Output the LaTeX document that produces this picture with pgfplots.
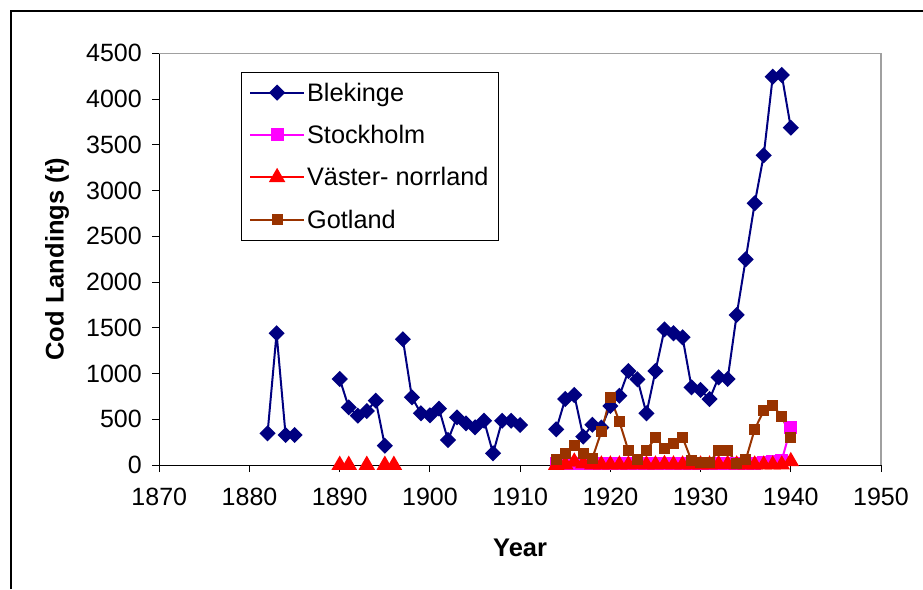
\documentclass[border=0pt]{standalone}
\usepackage{fontspec}
\setmainfont{Liberation Sans}
\usepackage{pgfplots}
\pgfplotsset{compat=1.18}
\definecolor{blek}{RGB}{0,0,128}
\definecolor{stock}{RGB}{255,0,255}
\definecolor{vast}{RGB}{255,0,0}
\definecolor{got}{RGB}{153,51,0}
\definecolor{pgray}{RGB}{160,160,160}
\begin{document}
\begin{tikzpicture}
\useasboundingbox (0pt,0pt) rectangle (923pt,589pt);
\draw[black, line width=1.3pt] (11pt,0pt) -- (11pt,578pt) -- (923pt,578pt);
\begin{axis}[
  at={(159.3pt,124pt)}, anchor=south west,
  scale only axis, width=721.7pt, height=411.7pt,
  xmin=1870, xmax=1950, ymin=0, ymax=4500,
  xtick={1870,1880,...,1950}, ytick={0,500,...,4500},
  axis x line*=bottom, axis y line*=left,
  axis line style={black, line width=1pt, -},
  tick align=outside, major tick length=7pt,
  tick style={black, line width=1pt},
  minor tick num=0,
  /pgf/number format/assume math mode=true,
  /pgf/number format/1000 sep={},
  tick label style={font=\fontsize{25}{29}\selectfont},
  xticklabel shift=13pt, yticklabel shift=7pt,
  xlabel={Year}, ylabel={Cod Landings (t)},
  label style={font=\fontsize{25.5}{30}\selectfont\bfseries},
  xlabel style={at={(axis description cs:0.5,-0.2016)}, anchor=center},
  ylabel style={at={(axis description cs:-0.1417,0.5)}, anchor=center},
  clip=false,
  unbounded coords=jump,
  legend style={at={(0.1132,0.955)}, anchor=north west, draw=black, line width=0.8pt,
    font=\fontsize{25.3}{30}\selectfont, inner xsep=7.7pt, inner ysep=8.5pt,
    row sep=18.5pt, nodes={inner sep=2pt},
    /tikz/every even column/.append style={column sep=9pt}},
  legend cell align=left,
  legend image code/.code={\draw[mark repeat=2,mark phase=2] plot coordinates {(0pt,0pt) (27pt,0pt) (54pt,0pt)};},
]
\draw[pgray, line width=1.5pt] (rel axis cs:0,1) -- (rel axis cs:1,1) -- (rel axis cs:1,0);
\addplot[color=blek, line width=2pt, mark=square*, mark size=4.7pt, mark options={rotate=45, solid, fill=blek}] coordinates {
(1882,346) (1883,1440) (1884,328) (1885,328) (1886,nan)
(1890,940) (1891,630) (1892,539) (1893,590) (1894,703) (1895,211) (1896,nan)
(1897,1374) (1898,740) (1899,565) (1900,543) (1901,616) (1902,273) (1903,521)
(1904,455) (1905,412) (1906,484) (1907,128) (1908,484) (1909,484) (1910,437) (1911,nan)
(1914,390) (1915,721) (1916,765) (1917,310) (1918,440) (1919,410) (1920,645)
(1921,757) (1922,1027) (1923,937) (1924,565) (1925,1027) (1926,1483) (1927,1440)
(1928,1396) (1929,849) (1930,820) (1931,721) (1932,958) (1933,940) (1934,1640)
(1935,2248) (1936,2860) (1937,3385) (1938,4244) (1939,4263) (1940,3687)
};
\addlegendentry{Blekinge}
\addplot[color=stock, line width=2pt, mark=square*, mark size=5.5pt, mark options={solid, fill=stock}] coordinates {
(1914,20) (1915,20) (1916,20) (1917,20) (1918,20) (1919,20) (1920,20) (1921,20)
(1922,20) (1923,20) (1924,20) (1925,20) (1926,20) (1927,20) (1928,20) (1929,20)
(1930,20) (1931,20) (1932,20) (1933,20) (1934,20) (1935,20) (1936,20) (1937,25)
(1938,35) (1939,50) (1940,408)
};
\addlegendentry{Stockholm}
\addplot[color=vast, line width=2pt, mark=triangle*, mark size=7.5pt, mark options={solid, fill=vast}] coordinates {
(1890,0) (1891,0) (1892,nan) (1893,0) (1894,nan) (1895,0) (1896,0) (1897,nan)
(1914,0) (1915,5) (1916,35) (1917,15) (1918,5) (1919,3) (1920,3) (1921,3)
(1922,3) (1923,8) (1924,3) (1925,3) (1926,8) (1927,3) (1928,3) (1929,3)
(1930,3) (1931,3) (1932,8) (1933,8) (1934,3) (1935,3) (1936,3) (1937,3)
(1938,3) (1939,3) (1940,40)
};
\addlegendentry{Väster- norrland}
\addplot[color=got, line width=2pt, mark=square*, mark size=4.5pt, mark options={solid, fill=got}] coordinates {
(1914,65) (1915,128) (1916,211) (1917,128) (1918,73) (1919,364) (1920,740)
(1921,474) (1922,157) (1923,65) (1924,157) (1925,302) (1926,182) (1927,230)
(1928,302) (1929,47) (1930,30) (1931,30) (1932,157) (1933,157) (1934,18)
(1935,55) (1936,390) (1937,594) (1938,645) (1939,535) (1940,302)
};
\addlegendentry{Gotland}
\end{axis}
\end{tikzpicture}
\end{document}
